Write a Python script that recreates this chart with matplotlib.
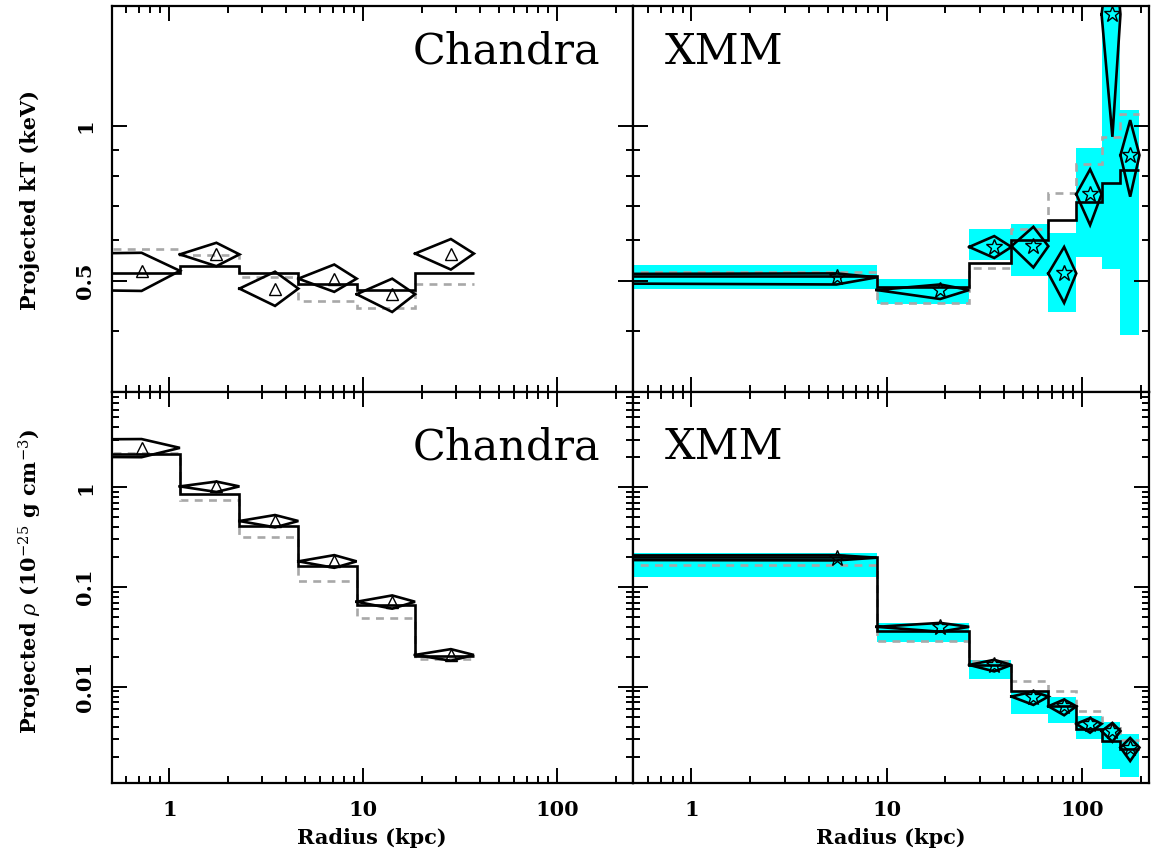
import numpy as np
import matplotlib
matplotlib.use("Agg")
import matplotlib.pyplot as plt
from matplotlib.ticker import NullFormatter

plt.rcParams['font.family'] = ['DejaVu Serif']
plt.rcParams['mathtext.fontset'] = 'dejavuserif'

# ---------------- data ----------------
# Chandra (left column)
ch_edges = [1e-8, 1.135, 2.30, 4.63, 9.25, 18.5, 37.2]
ch_rc = [0.72, 1.75, 3.51, 7.09, 14.1, 28.3]
ch_kt = [0.523, 0.563, 0.483, 0.505, 0.471, 0.565]
ch_kt_hi = [0.567, 0.593, 0.521, 0.538, 0.505, 0.603]
ch_kt_lo = [0.478, 0.534, 0.447, 0.476, 0.435, 0.526]
ch_kt_model = [0.518, 0.534, 0.518, 0.493, 0.480, 0.518]
ch_kt_model2 = [0.576, 0.5625, 0.509, 0.4565, 0.442, 0.494]

ch_rho = [2.48, 1.02, 0.459, 0.181, 0.0713, 0.0209]
ch_rho_hi = [3.04, 1.14, 0.527, 0.209, 0.0825, 0.0239]
ch_rho_lo = [2.0, 0.897, 0.397, 0.156, 0.0608, 0.0183]
ch_rho_model = [2.15, 0.865, 0.409, 0.161, 0.0664, 0.0204]
ch_rho_model2 = [2.19, 0.748, 0.319, 0.1153, 0.0489, 0.0192]

# XMM (right column)
xm_edges = [1e-8, 8.89, 26.5, 43.6, 67.4, 93.7, 126.3, 157.8, 197.5]
xm_rc = [5.54, 18.8, 35.6, 56.5, 81.2, 110.3, 143.5, 177.0]
xm_kt = [0.508, 0.480, 0.582, 0.584, 0.517, 0.737, 1.65, 0.878]
xm_kt_hi = [0.517, 0.492, 0.611, 0.637, 0.582, 0.824, 2.4, 1.027]
xm_kt_lo = [0.492, 0.461, 0.554, 0.531, 0.453, 0.642, 0.953, 0.729]
xm_kt_model = [0.510, 0.487, 0.542, 0.600, 0.658, 0.712, 0.774, 0.821]
xm_kt_model2 = [0.520, 0.452, 0.530, 0.632, 0.740, 0.844, 0.953, 1.055]
xm_kt_band_lo = [0.483, 0.450, 0.550, 0.5115, 0.435, 0.557, 0.528, 0.393]
xm_kt_band_hi = [0.5365, 0.504, 0.632, 0.644, 0.620, 0.905, 2.0, 1.077]

xm_rho = [0.197, 0.040, 0.0166, 0.0080, 0.0064, 0.00427, 0.00361, 0.00247]
xm_rho_hi = [0.209, 0.0438, 0.0187, 0.0090, 0.00748, 0.00487, 0.00436, 0.00308]
xm_rho_lo = [0.185, 0.0357, 0.0143, 0.0066, 0.0052, 0.00348, 0.00282, 0.00181]
xm_rho_model = [0.199, 0.0365, 0.0165, 0.00903, 0.00637, 0.00383, 0.00286, 0.00238]
xm_rho_model2 = [0.166, 0.0287, 0.0181, 0.01157, 0.00903, 0.0058, 0.0042, 0.00292]
xm_rho_band_lo = [0.125, 0.0283, 0.0120, 0.0054, 0.00436, 0.00301, 0.00151, 0.00124]
xm_rho_band_hi = [0.217, 0.0432, 0.0187, 0.00903, 0.00792, 0.00512, 0.00443, 0.00338]

x_ticks = [1, 10, 100]
x_ticklabels = ['1', '10', '100']
kt_ticks = [0.5, 1]
kt_ticklabels = ['0.5', '1']
kt_minor = [0.4, 0.6, 0.7, 0.8, 0.9]
rho_ticks = [0.01, 0.1, 1]
rho_ticklabels = ['0.01', '0.1', '1']

W, H = 1153, 859
fig = plt.figure(figsize=(W / 100, H / 100), dpi=100)


def box(x0, x1, y0, y1):
    return [x0 / W, 1 - y1 / H, (x1 - x0) / W, (y1 - y0) / H]


ax_tl = fig.add_axes(box(111.7, 632.7, 6, 392))
ax_tr = fig.add_axes(box(632.7, 1149, 6, 392))
ax_bl = fig.add_axes(box(111.7, 632.7, 392, 783))
ax_br = fig.add_axes(box(632.7, 1149, 392, 783))

LW = 1.9


def draw(ax, edges, rc, yc, hi, lo, model, model2, marker, ms, blo=None, bhi=None):
    edges = np.asarray(edges)
    if blo is not None:
        ax.bar(edges[:-1], np.asarray(bhi) - np.asarray(blo), width=np.diff(edges),
               bottom=blo, align='edge', color='#00ffff', lw=0, zorder=1)
    ax.stairs(model2, edges, baseline=None, color='#a8a8a8', lw=LW,
              linestyle=(0, (3.0, 2.4)), zorder=2)
    ax.stairs(model, edges, baseline=None, color='k', lw=LW, zorder=3)
    for i in range(len(rc)):
        xs = [edges[i], rc[i], edges[i + 1], rc[i], edges[i]]
        ys = [yc[i], hi[i], yc[i], lo[i], yc[i]]
        ax.plot(xs, ys, color='k', lw=LW, zorder=4, solid_joinstyle='miter')
    ax.plot(rc, yc, ls='none', marker=marker, ms=ms, mfc='none', mec='k',
            mew=1.0, zorder=5)


draw(ax_tl, ch_edges, ch_rc, ch_kt, ch_kt_hi, ch_kt_lo, ch_kt_model, ch_kt_model2, '^', 8)
draw(ax_bl, ch_edges, ch_rc, ch_rho, ch_rho_hi, ch_rho_lo, ch_rho_model, ch_rho_model2, '^', 8)
draw(ax_tr, xm_edges, xm_rc, xm_kt, xm_kt_hi, xm_kt_lo, xm_kt_model, xm_kt_model2, '*', 12,
     xm_kt_band_lo, xm_kt_band_hi)
draw(ax_br, xm_edges, xm_rc, xm_rho, xm_rho_hi, xm_rho_lo, xm_rho_model, xm_rho_model2, '*', 12,
     xm_rho_band_lo, xm_rho_band_hi)

xminor = [m * 10.0 ** e for e in range(-1, 3) for m in range(2, 10)]
rho_minor = [m * 10.0 ** e for e in range(-3, 1) for m in range(2, 10)]

for ax in (ax_tl, ax_tr, ax_bl, ax_br):
    ax.set_xscale('log')
    ax.set_yscale('log')
    ax.set_xticks(x_ticks, x_ticklabels)
    ax.set_xticks(xminor, minor=True)
    ax.xaxis.set_minor_formatter(NullFormatter())
    for s in ax.spines.values():
        s.set_linewidth(1.6)
    ax.tick_params(which='both', direction='in', top=True, right=True, width=1.4)
    ax.tick_params(which='major', length=11, pad=12, labelsize=15)
    ax.tick_params(which='minor', length=5)
    ax.tick_params(axis='y', labelrotation=90)

ax_tl.set_xlim(0.505, 245)
ax_bl.set_xlim(0.505, 245)
ax_tr.set_xlim(0.5, 221)
ax_br.set_xlim(0.5, 221)

for ax in (ax_tl, ax_tr):
    ax.set_ylim(0.304, 1.712)
    ax.set_yticks(kt_ticks, kt_ticklabels)
    ax.set_yticks(kt_minor, minor=True)
    ax.yaxis.set_minor_formatter(NullFormatter())
    ax.tick_params(labelbottom=False)
for ax in (ax_bl, ax_br):
    ax.set_ylim(0.00109, 5.47)
    ax.set_yticks(rho_ticks, rho_ticklabels)
    ax.set_yticks(rho_minor, minor=True)
    ax.yaxis.set_minor_formatter(NullFormatter())
    ax.set_xlabel('Radius (kpc)', fontsize=15, fontweight='bold', labelpad=6)
for ax in (ax_tr, ax_br):
    ax.tick_params(labelleft=False)
for ax in (ax_tl, ax_tr, ax_bl, ax_br):
    for lab in ax.get_yticklabels() + ax.get_xticklabels():
        lab.set_fontweight('bold')
for ax in (ax_tl, ax_bl):
    for lab in ax.get_yticklabels():
        lab.set_va('center')

ax_tl.text(0.937, 0.881, 'Chandra', transform=ax_tl.transAxes, ha='right', va='center', fontsize=31)
ax_bl.text(0.937, 0.859, 'Chandra', transform=ax_bl.transAxes, ha='right', va='center', fontsize=31)
ax_tr.text(0.0626, 0.881, 'XMM', transform=ax_tr.transAxes, ha='left', va='center', fontsize=31)
ax_br.text(0.0626, 0.859, 'XMM', transform=ax_br.transAxes, ha='left', va='center', fontsize=31)

fig.text(30 / W, 1 - 200 / H, 'Projected kT (keV)', rotation=90, ha='center', va='center',
         fontsize=15, fontweight='bold')
fig.text(30 / W, 1 - 582 / H, r'Projected $\rho$ (10$^{-25}$ g cm$^{-3}$)', rotation=90,
         ha='center', va='center', fontsize=15, fontweight='bold')

fig.savefig('out.png', dpi=100)
